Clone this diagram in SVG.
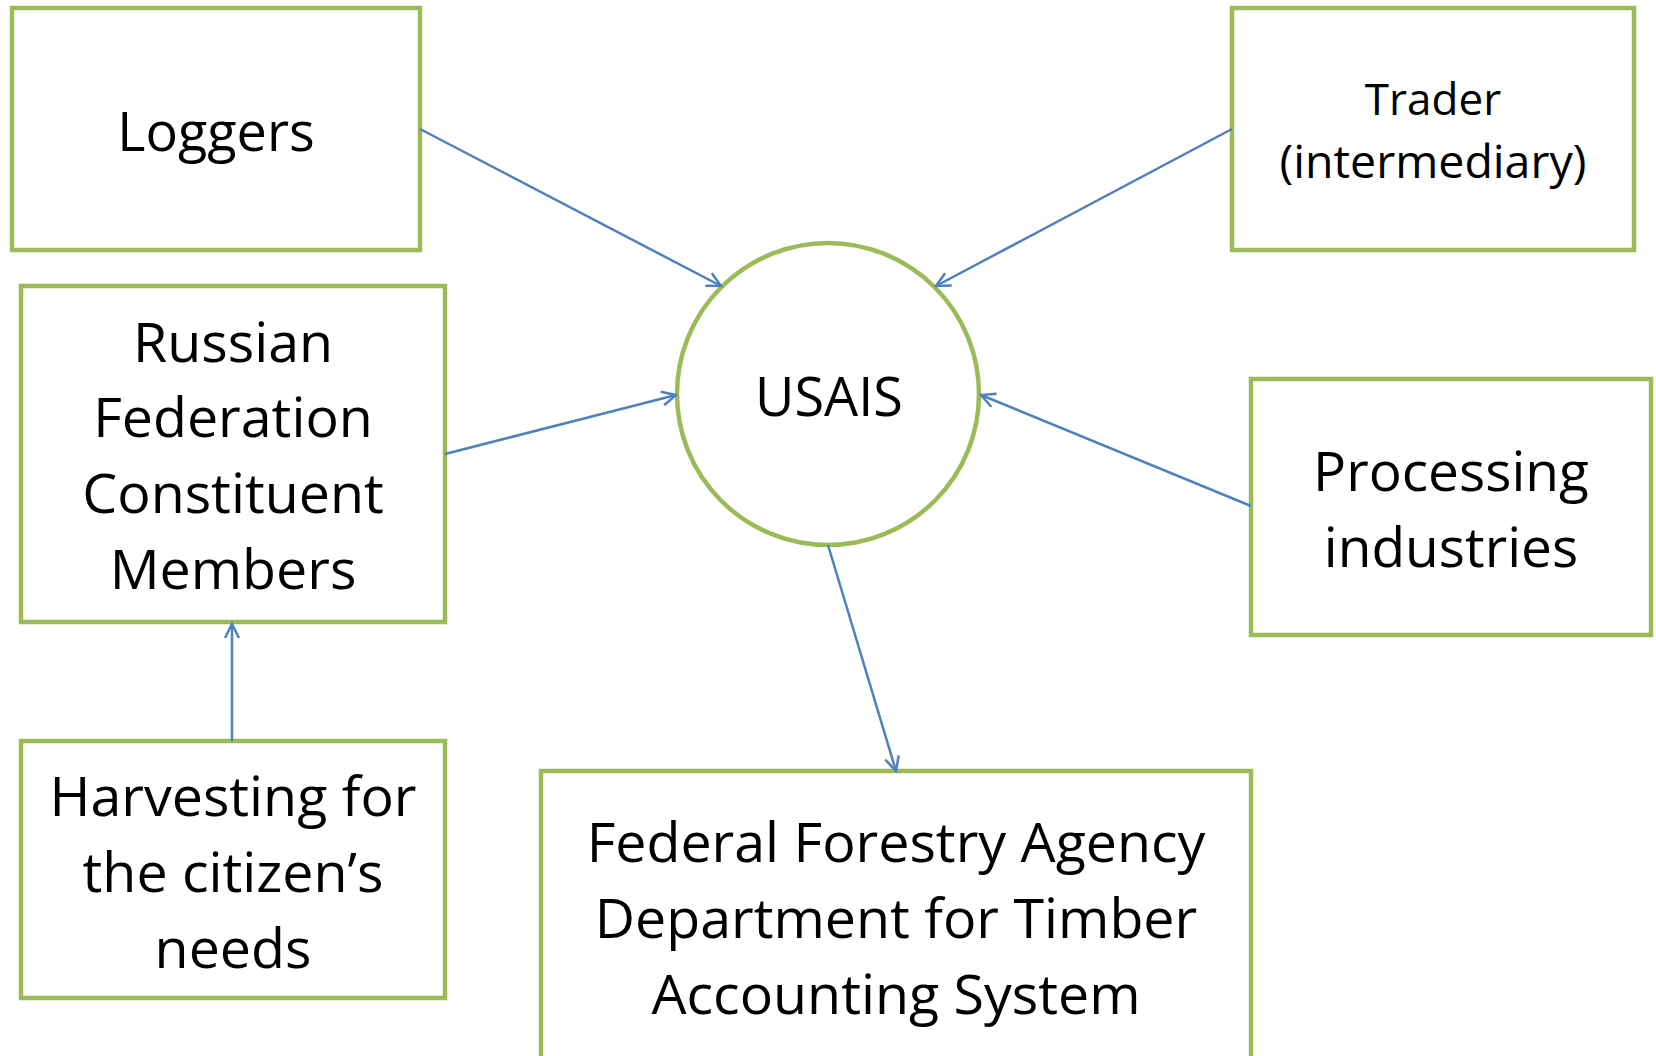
<svg xmlns="http://www.w3.org/2000/svg" width="1656" height="1056" viewBox="0 0 1656 1056">
<style>
.box{fill:#fff;stroke:#9BBB59;stroke-width:4.5}
.t{font-family:"Open Sans","Noto Sans",sans-serif;font-size:54px;fill:#000;text-anchor:middle}
.m{font-size:55.5px}
.c{stroke:#4F81BD;stroke-width:2.5;fill:none}
</style>
<defs>
<marker id="arr" markerUnits="userSpaceOnUse" markerWidth="18" markerHeight="18" viewBox="0 0 18 18" refX="16" refY="9" orient="auto">
<path d="M2,2 L16,9 L2,16" fill="none" stroke="#4F81BD" stroke-width="2.5"/>
</marker>
</defs>
<rect width="1656" height="1056" fill="#fff"/>
<g id="loggers"><rect class="box" x="12" y="8" width="408" height="242"/><text class="t" x="216" y="151">Loggers</text></g>
<g id="trader"><rect class="box" x="1232" y="8" width="402" height="242"/><text class="t" x="1433" y="115" style="font-size:44px">Trader</text><text class="t" x="1433" y="178" style="font-size:46.5px">(intermediary)</text></g>
<g id="russian"><rect class="box" x="21" y="286" width="424" height="336"/>
<text class="t m" x="233" y="362">Russian</text><text class="t m" x="233" y="437">Federation</text><text class="t m" x="233" y="513">Constituent</text><text class="t m" x="233" y="589">Members</text></g>
<g id="usais"><circle cx="828" cy="394" r="151" fill="#fff" stroke="#9BBB59" stroke-width="4.5"/><text class="t" x="829" y="416">USAIS</text></g>
<g id="processing"><rect class="box" x="1251" y="379" width="400" height="256"/><text class="t" x="1451" y="491" style="font-size:55px">Processing</text><text class="t" x="1451" y="567" style="font-size:55px">industries</text></g>
<g id="harvesting"><rect class="box" x="21" y="741" width="424" height="257"/><text class="t m" x="233" y="816">Harvesting for</text><text class="t m" x="233" y="892">the citizen’s</text><text class="t m" x="233" y="968">needs</text></g>
<g id="federal"><rect class="box" x="541" y="771" width="710" height="300"/><text class="t m" x="896" y="862">Federal Forestry Agency</text><text class="t m" x="896" y="938">Department for Timber</text><text class="t m" x="896" y="1014">Accounting System</text></g>
<g id="connectors">
<line class="c" x1="420" y1="129" x2="721" y2="286" marker-end="url(#arr)"/>
<line class="c" x1="1232" y1="129" x2="936" y2="286" marker-end="url(#arr)"/>
<line class="c" x1="445" y1="454" x2="676" y2="395" marker-end="url(#arr)"/>
<line class="c" x1="1251" y1="506" x2="981" y2="395" marker-end="url(#arr)"/>
<line class="c" x1="828" y1="545" x2="896" y2="771" marker-end="url(#arr)"/>
<line class="c" x1="232" y1="741" x2="232" y2="624" marker-end="url(#arr)"/>
</g>
</svg>
